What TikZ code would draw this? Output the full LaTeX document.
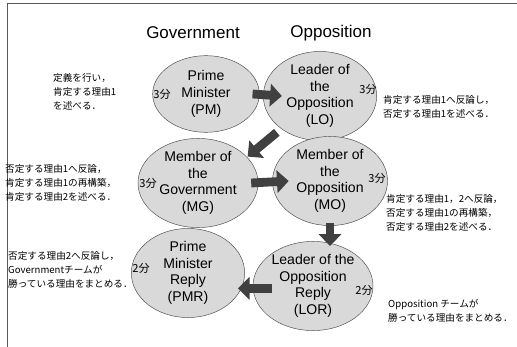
\documentclass[tikz,border=0pt]{standalone}
\usepackage{fontspec}
\setmainfont{Liberation Sans}
\newfontfamily\jpfont{Noto Sans CJK JP}
\usetikzlibrary{shapes.geometric,arrows.meta}

\begin{document}
\begin{tikzpicture}[x=0.03cm, y=-0.03cm,
    speaker/.style={ellipse, draw=gray!60!black, fill=gray!30, inner sep=0pt, align=center,
      font=\fontsize{12}{14.2}\selectfont},
    note/.style={align=left, anchor=west, inner sep=0pt, font=\jpfont\fontsize{8.2}{11.8}\selectfont},
    mins/.style={inner sep=0pt, font=\jpfont\fontsize{9.5}{11}\selectfont},
    side/.style={font=\fontsize{14.5}{16}\selectfont},
    turn/.style={line width=7.5pt, gray!50!black, -{Triangle[length=10pt, width=19pt]}}]

  \useasboundingbox (0,0) rectangle (517,347);
  \draw[gray!70!black, line width=0.8pt] (7,352) -- (7,3) -- (522,3);

  \node[side] (gov) at (193,33) {Government};
  \node[side] (opp) at (331,33) {Opposition};

  \node[speaker, minimum width=3.2cm, minimum height=2.3cm] (pm) at (206,94) {Prime\\Minister\\(PM)};
  \node[speaker, minimum width=3.4cm, minimum height=2.35cm] (lo) at (320,96) {Leader of\\the\\Opposition\\(LO)};
  \node[speaker, minimum width=3.6cm, minimum height=2.35cm] (mg) at (198,183) {Member of\\the\\Government\\(MG)};
  \node[speaker, minimum width=3.45cm, minimum height=2.4cm] (mo) at (330,181) {Member of\\the\\Opposition\\(MO)};
  \node[speaker, minimum width=3.4cm, minimum height=2.4cm] (pmr) at (188,273) {Prime\\Minister\\Reply\\(PMR)};
  \node[speaker, minimum width=3.6cm, minimum height=2.3cm] (lor) at (313,286) {Leader of the\\Opposition\\Reply\\(LOR)};

  \node[mins] (pmt) at (162,94) {3分};
  \node[mins] (lot) at (368,89) {3分};
  \node[mins] (mgt) at (148,183) {3分};
  \node[mins] (mot) at (377,178) {3分};
  \node[mins] (pmrt) at (141,268) {2分};
  \node[mins] (lort) at (364,290) {2分};

  \draw[turn] ([xshift=-6pt]pm.east) -- ([xshift=16pt]lo.west);
  \draw[turn] ([xshift=-2.5pt,yshift=-4pt]lo.south west) -- ([xshift=6pt,yshift=-4.5pt]mg.north east);
  \draw[turn] ([xshift=-6pt]mg.east) -- ([xshift=14pt]mo.west);
  \draw[turn] ([yshift=2pt]mo.south) -- ([yshift=-4pt]mo.south |- lor.north);
  \draw[turn] ([xshift=16pt,yshift=-2pt]lor.west) -- ([xshift=-6pt,yshift=-2pt]lor.west -| pmr.east);

  \node[note] (n1) at (53,92) {定義を行い，\\肯定する理由1\\を述べる．};
  \node[note] (n2) at (383,107) {肯定する理由1へ反論し，\\否定する理由1を述べる．};
  \node[note] (n3) at (5,183) {否定する理由1へ反論，\\肯定する理由1の再構築，\\肯定する理由2を述べる．};
  \node[note] (n4) at (386,213) {肯定する理由1，2へ反論，\\否定する理由1の再構築，\\否定する理由2を述べる．};
  \node[note] (n5) at (8,270) {否定する理由2へ反論し，\\Governmentチームが\\勝っている理由をまとめる．};
  \node[note] (n6) at (388,311) {Opposition チームが\\勝っている理由をまとめる．};

\end{tikzpicture}
\end{document}
